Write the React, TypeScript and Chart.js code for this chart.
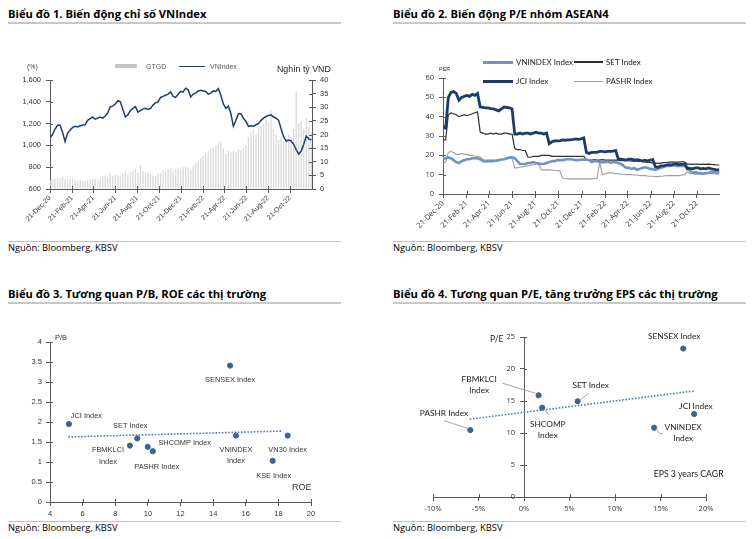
import React, { useEffect, useRef } from "react";
import { Chart, registerables } from "chart.js";

Chart.register(...registerables);

// ---------- shared time axis (days since 21-Dec-2020) ----------
const monthTickDays = [0, 62, 121, 182, 243, 304, 365, 427, 486, 547, 608, 669];
const monthTickLabels = [
  "21-Dec-20", "21-Feb-21", "21-Apr-21", "21-Jun-21", "21-Aug-21", "21-Oct-21",
  "21-Dec-21", "21-Feb-22", "21-Apr-22", "21-Jun-22", "21-Aug-22", "21-Oct-22",
];

// ---------- Chart 1: VNIndex (weekly) & GTGD ----------
const vnIndex = [
  1070, 1100, 1150, 1185, 1185, 1120, 1035, 1110, 1140, 1165,
  1175, 1170, 1180, 1185, 1190, 1230, 1245, 1260, 1240, 1250,
  1260, 1250, 1270, 1300, 1355, 1360, 1380, 1410, 1400, 1330,
  1260, 1280, 1320, 1340, 1355, 1305, 1320, 1335, 1340, 1330,
  1340, 1370, 1390, 1400, 1440, 1450, 1460, 1470, 1490, 1450,
  1440, 1470, 1495, 1490, 1525, 1510, 1445, 1470, 1480, 1500,
  1505, 1500, 1495, 1470, 1480, 1500, 1495, 1520, 1460, 1380,
  1340, 1360, 1290, 1175, 1230, 1290, 1290, 1250, 1220, 1175,
  1180, 1175, 1190, 1200, 1230, 1250, 1265, 1275, 1280, 1260,
  1250, 1230, 1150, 1080, 1040, 1050, 1040, 1010, 960, 920,
  950, 1010, 1085, 1060, 1050,
];
const gtgd = [
  3.2, 3.5, 3.8, 4.2, 3.9, 4.5, 3.6, 3.3, 3.8,
  3.5, 3.2, 3.0, 3.4, 2.8, 3.0, 3.2, 3.5, 3.8,
  3.5, 3.3, 4.2, 4.8, 5.0, 4.5, 5.5, 4.8, 5.2,
  5.0, 4.6, 5.8, 6.5, 5.2, 6.0, 6.8, 7.2, 6.0,
  8.8, 6.5, 5.8, 6.0, 5.5, 5.0, 4.8, 5.5, 6.0,
  6.8, 6.5, 7.2, 7.5, 6.5, 7.0, 7.8, 7.5, 8.0,
  8.2, 7.8, 7.0, 8.5, 9.5, 10.5, 11.5, 12.0, 13.0,
  14.0, 15.0, 15.5, 16.0, 17.0, 17.5, 15.0, 13.0, 14.0,
  13.5, 14.0, 13.5, 14.5, 14.0, 15.0, 16.0, 19.0, 21.0,
  22.0, 20.0, 22.5, 23.0, 24.0, 26.0, 24.5, 29.0, 22.0,
  20.0, 18.0, 19.0, 17.5, 18.5, 20.0, 19.0, 22.0, 36.0,
  24.0, 25.0, 22.0, 26.0, 23.0, 21.0,
];

// ---------- Chart 2: P/E ASEAN4 (weekly) ----------
const peVnindex = [
  18, 18.5, 19, 18.5, 17.5, 16.5, 16, 17, 17.5, 18,
  18, 18.5, 18.5, 18.5, 18, 17, 16.8, 17, 17, 17,
  17.2, 17.5, 17.8, 18, 18.5, 18.8, 19, 18.5, 17, 15.5,
  15.5, 15.5, 16, 16, 16.5, 16, 15.8, 15.5, 15.5, 16,
  16.5, 17, 17, 17.5, 17.5, 17.5, 17.8, 18, 18, 17.8,
  17.5, 17.5, 17.8, 17.8,
  17.8, 17.5, 16.5, 17, 17, 16.5, 16.5, 16.5, 16.8, 16.2,
  16.5, 16.5, 16, 15.5, 14.5, 13.5, 13.5, 13, 13.5, 12.5,
  13, 13.5, 13.8, 13.5, 13, 12.8, 12.5, 13, 13.5, 14,
  14.5, 14.5, 14.8, 15, 14.5, 14.5, 14.5, 14.5, 14, 12,
  11, 11.3, 11, 10.8, 10.5, 10.8, 11, 11.3, 11.2, 11.2, 11,
];
const peSet = [
  28, 28, 41, 42, 41.5, 41, 40, 40.5, 41, 40.5,
  41, 41.5, 42, 42.5, 32, 31.5, 31, 31, 31.5, 31,
  31.5, 31, 31, 31.5, 31.5, 31, 31, 23.5, 23, 23,
  22.5, 22.5, 19, 19, 19.5, 19.5, 19.5, 20, 20, 20,
  20, 19.5, 19.5, 19.5, 19.5, 19.5, 19.5, 19.5, 19.5, 19.5,
  19.5, 19.5, 19.5, 19.5, 17.7, 17.5, 17.5, 17.8, 17.5, 17.5,
  17.8, 17.5, 17.5, 17.5, 17.5, 17.5, 17.5, 17.3, 17.3, 17.2,
  17.2, 17, 17, 17, 16.8, 16.8, 16.5, 16.5, 16.3, 16,
  16, 15.8, 16, 16.2, 16.3, 16.5, 16.5, 16.5, 16.5, 16.5,
  16.8, 16.5, 15.5, 15.5, 15.3, 15.5, 15.5, 15.3, 15.5, 15.3,
  15.5, 15.3, 15.2, 15, 15,
];
const peJci = [
  35, 34, 50, 52.5, 53, 52, 48.5, 50, 50.5, 51,
  50.5, 51.5, 51, 52, 45, 44.8, 44.5, 44.5, 44.2, 44,
  43.5, 43, 44, 45, 44.8, 44.5, 44, 31, 31, 31.5,
  31, 31.5, 31.5, 31, 31.5, 32, 31.5, 31.5, 31, 31.5,
  26, 27, 27.5, 27.5, 27.5, 28, 27.8, 28, 28, 28.2,
  28.5, 28.3, 28.5, 29, 21.5, 21, 21.5, 21.5, 21.5, 22,
  22, 21.8, 22, 22, 22.2, 22.5, 18, 18, 17.8, 17.5,
  18, 18, 17.5, 17.8, 17.5, 17, 17.5, 17, 17.5, 17.8,
  14, 13.8, 14.5, 14.5, 15, 15.2, 15, 15.5, 15.5, 15.2,
  15.5, 15.5, 13, 13.2, 13, 13.5, 13.5, 13, 13.2, 13,
  13.5, 13, 12.8, 12.5, 12.5,
];
const pePashr = [
  16, 16.5, 21.5, 22, 21.5, 20.5, 20.5, 21, 20.5, 20.5,
  20, 20, 19.5, 19.5, 19, 18, 17.5, 17.5, 17.5, 17.5,
  17.5, 18, 18, 18, 18, 18.5, 18.5,
  13.5, 13.5, 14, 14, 14.5, 14.5, 15, 15, 15.5, 15.5,
  12.5, 12.5, 12.5, 12.5, 12.3, 12.3, 12, 12,
  8.3, 8, 7.8, 7.8, 7.8, 7.8, 7.8, 7.8, 7.8, 7.8, 7.8, 7.8, 8, 8,
  16.5, 10,
  10.5, 10.8, 11, 10.8, 10.5, 10.5, 10.3, 10.2, 10, 10,
  10, 9.8, 9.8, 9.5, 9.5, 9.5, 9.3, 9.2, 9.2, 9,
  9, 9.2, 9.3, 9.5, 9.5, 9.5, 9.5, 9.5, 9.5, 9.8,
  10, 11.5, 10.5, 10.5, 10.3, 10.3, 10.3, 10.5, 10.5, 10.5,
  10.5, 10.5, 10.3, 10.3,
];

// ---------- Chart 3: P/B vs ROE ----------
const c3Names = ["SENSEX Index", "JCI Index", "SET Index", "FBMKLCI Index", "SHCOMP Index", "PASHR Index", "VNINDEX Index", "VN30 Index", "KSE Index"];
const c3Roe = [15.04, 5.16, 9.35, 8.9, 9.99, 10.3, 15.4, 18.57, 17.65];
const c3Pb = [3.41, 1.95, 1.59, 1.41, 1.38, 1.27, 1.66, 1.66, 1.03];
const c3TrendRange = [5.12, 18.2];

// ---------- Chart 4: P/E vs EPS growth ----------
const c4Names = ["SENSEX Index", "FBMKLCI Index", "SET Index", "SHCOMP Index", "PASHR Index", "JCI Index", "VNINDEX Index"];
const c4Eps = [17.5, 1.6, 5.9, 2.0, -5.9, 18.7, 14.3];
const c4Pe = [23.2, 15.9, 14.96, 13.96, 10.46, 12.97, 10.82];
const c4TrendRange = [-5.96, 18.7];

// ---------- helpers ----------
const AXIS = "#595959";
const TICKC = "#333333";
const weekDay = (i: number) => i * 7;

function regression(xs: number[], ys: number[]) {
  const n = xs.length;
  const mx = xs.reduce((a, b) => a + b, 0) / n;
  const my = ys.reduce((a, b) => a + b, 0) / n;
  let sxy = 0, sxx = 0;
  for (let i = 0; i < n; i++) { sxy += (xs[i] - mx) * (ys[i] - my); sxx += (xs[i] - mx) ** 2; }
  const b = sxy / sxx;
  return (x: number) => my + b * (x - mx);
}

const innerTicks = {
  id: "innerTicks",
  afterDraw(chart: any, _a: any, opts: any) {
    if (!opts || !opts.scales) return;
    const ctx = chart.ctx;
    ctx.save();
    ctx.strokeStyle = AXIS;
    ctx.lineWidth = 1;
    const len = opts.length || 3;
    for (const id of opts.scales) {
      const s = chart.scales[id];
      if (!s) continue;
      for (const t of s.ticks) {
        const p = Math.round(s.getPixelForValue(t.value)) + 0.5;
        ctx.beginPath();
        if (s.isHorizontal()) {
          const y = Math.round(chart.chartArea.bottom);
          ctx.moveTo(p, y); ctx.lineTo(p, y - len);
        } else {
          let x: number, dir: number;
          if (typeof s.options.position === "object") {
            x = Math.round(chart.scales.x.getPixelForValue(0)); dir = 1;
          } else if (s.options.position === "right") {
            x = Math.round(s.left); dir = -1;
          } else {
            x = Math.round(s.right); dir = 1;
          }
          ctx.moveTo(x, p); ctx.lineTo(x + dir * len, p);
        }
        ctx.stroke();
      }
    }
    // optional: labels for a y-axis that sits inside the chart area
    if (opts.centerYLabels) {
      const s = chart.scales.y;
      const x = chart.scales.x.getPixelForValue(0) - opts.centerYLabels.gap;
      ctx.font = opts.centerYLabels.font;
      ctx.fillStyle = TICKC;
      ctx.textAlign = "right";
      ctx.textBaseline = "middle";
      for (const t of s.ticks) ctx.fillText(String(t.label), x, s.getPixelForValue(t.value));
    }
    ctx.restore();
  },
};

const pointLabels = {
  id: "pointLabels",
  afterDatasetsDraw(chart: any, _a: any, opts: any) {
    if (!opts || !opts.names) return;
    const meta = chart.getDatasetMeta(0);
    const ctx = chart.ctx;
    ctx.save();
    ctx.font = opts.font;
    ctx.fillStyle = opts.color;
    ctx.textAlign = "center";
    ctx.textBaseline = "middle";
    meta.data.forEach((el: any, i: number) => {
      const name: string = opts.names[i];
      const st = opts.styles[name];
      if (!st) return;
      const lines = st.wrap ? name.split(" ") : [name];
      lines.forEach((ln: string, k: number) => ctx.fillText(ln, el.x + st.dx, el.y + st.dy + k * opts.lineHeight));
      if (st.leader) {
        ctx.strokeStyle = "#a6a6a6";
        ctx.lineWidth = 1;
        ctx.beginPath();
        st.leader.forEach((pt: number[], k: number) => {
          if (k === 0) ctx.moveTo(el.x + pt[0], el.y + pt[1]);
          else ctx.lineTo(el.x + pt[0], el.y + pt[1]);
        });
        ctx.stroke();
      }
    });
    ctx.restore();
  },
};

Chart.register(innerTicks, pointLabels);

function ChartBox({ left, top, width, height, make }: any) {
  const ref = useRef<HTMLCanvasElement>(null);
  useEffect(() => {
    const chart = new Chart(ref.current as HTMLCanvasElement, make());
    return () => chart.destroy();
  }, []);
  return (
    <div style={{ position: "absolute", left, top, width, height }}>
      <canvas ref={ref} width={width} height={height} style={{ width, height, display: "block" }} />
    </div>
  );
}

function Txt({ x, y, children, font, size, weight, color, align }: any) {
  const tx = align === "center" ? "-50%" : align === "right" ? "-100%" : "0";
  return (
    <div
      style={{
        position: "absolute", left: x, top: y, transform: `translate(${tx}, -50%)`,
        whiteSpace: "nowrap", lineHeight: 1, fontFamily: font || "'Open Sans'", fontSize: size,
        fontWeight: weight || 400, color: color || "#000",
      }}
    >
      {children}
    </div>
  );
}

const Rule = ({ x, y, w, c, h }: any) => (
  <div style={{ position: "absolute", left: x, top: y, width: w, height: h || 2, background: c || "#c8c8c8" }} />
);

const tickFont = (size: number, family = "'Liberation Sans'") => ({ family, size });

function timeXAxis(height: number, size: number, family?: string) {
  return {
    type: "linear",
    min: 0,
    max: 730,
    offset: false,
    grid: { display: true, drawOnChartArea: false, tickLength: 4, color: AXIS, offset: false },
    border: { color: AXIS, width: 1 },
    ticks: {
      autoSkip: false, minRotation: 45, maxRotation: 45, padding: 1,
      font: tickFont(size, family), color: TICKC,
      callback: (_v: any, i: number) => monthTickLabels[i],
    },
    afterBuildTicks: (s: any) => { s.ticks = monthTickDays.map((v) => ({ value: v })); },
    afterFit: (s: any) => { s.height = height; },
  };
}

function makeChart1() {
  return {
    type: "bar",
    data: {
      datasets: [
        {
          type: "line", label: "VNIndex", yAxisID: "y", order: 0,
          data: vnIndex.map((v, i) => ({ x: weekDay(i), y: v })),
          borderColor: "#1f3e6a", borderWidth: 1.5, pointRadius: 0, tension: 0,
        },
        {
          type: "bar", label: "GTGD", yAxisID: "y1", order: 1,
          data: gtgd.map((v, i) => ({ x: weekDay(i), y: v })),
          backgroundColor: "#dcdcdc", barPercentage: 0.55, categoryPercentage: 1,
        },
      ],
    },
    options: {
      responsive: false, animation: false, devicePixelRatio: 1,
      layout: { padding: { top: 10, left: 0, right: 0, bottom: 0 } },
      plugins: { legend: { display: false }, tooltip: { enabled: false }, innerTicks: { scales: ["y", "y1", "x"], length: 3 } },
      scales: {
        x: timeXAxis(51, 7),
        y: {
          position: "left", min: 600, max: 1600,
          grid: { drawOnChartArea: false, tickLength: 4, color: AXIS },
          border: { color: AXIS },
          ticks: { stepSize: 200, font: tickFont(7.5), color: TICKC, padding: 5, callback: (v: number) => v.toLocaleString("en-US") },
          afterFit: (s: any) => { s.width = 50; },
        },
        y1: {
          position: "right", min: 0, max: 40,
          grid: { drawOnChartArea: false, tickLength: 4, color: AXIS },
          border: { color: AXIS },
          ticks: { stepSize: 5, font: tickFont(7.5), color: TICKC, padding: 4 },
          afterFit: (s: any) => { s.width = 28; },
        },
      },
    },
  };
}

function makeChart2() {
  const mk = (label: string, arr: number[], color: string, width: number, order: number) => ({
    label, order, data: arr.map((v, i) => ({ x: weekDay(i), y: v })),
    borderColor: color, borderWidth: width, pointRadius: 0, tension: 0,
  });
  return {
    type: "line",
    data: {
      datasets: [
        mk("VNINDEX Index", peVnindex, "#7093c6", 2.6, 1),
        mk("SET Index", peSet, "#2e2e2e", 1.2, 2),
        mk("JCI Index", peJci, "#1d3c6a", 2.8, 0),
        mk("PASHR Index", pePashr, "#9e9e9e", 1.1, 3),
      ],
    },
    options: {
      responsive: false, animation: false, devicePixelRatio: 1,
      layout: { padding: { top: 18, left: 0, right: 0, bottom: 0 } },
      plugins: { legend: { display: false }, tooltip: { enabled: false }, innerTicks: { scales: ["y", "x"], length: 3 } },
      scales: {
        x: timeXAxis(46, 7.5, "'Open Sans'"),
        y: {
          position: "left", min: 0, max: 60,
          grid: { drawOnChartArea: false, tickLength: 4, color: AXIS },
          border: { color: AXIS },
          ticks: { stepSize: 10, font: tickFont(7.5, "'Open Sans'"), color: TICKC, padding: 5 },
          afterFit: (s: any) => { s.width = 43; },
        },
      },
    },
  };
}

const scatterPoint = "#3d6491";
const trendColor = "#4a78b8";

function makeChart3() {
  const f = regression(c3Roe, c3Pb);
  return {
    type: "scatter",
    data: {
      datasets: [
        {
          label: "P/B", data: c3Roe.map((x, i) => ({ x, y: c3Pb[i] })),
          backgroundColor: scatterPoint, borderColor: scatterPoint, pointRadius: 2.6, order: 0,
        },
        {
          type: "line", label: "trend", data: c3TrendRange.map((x) => ({ x, y: f(x) })),
          borderColor: trendColor, borderWidth: 1.6, borderDash: [1.6, 1.6], pointRadius: 0, order: 1,
        },
      ],
    },
    options: {
      responsive: false, animation: false, devicePixelRatio: 1,
      layout: { padding: { top: 22, left: 0, right: 19, bottom: 0 } },
      plugins: {
        legend: { display: false }, tooltip: { enabled: false },
        innerTicks: { scales: ["y", "x"], length: 3 },
        pointLabels: {
          names: c3Names, font: "7.4px 'Liberation Sans'", color: "#333", lineHeight: 11.5,
          styles: {
            "SENSEX Index": { dx: 0, dy: 14.3 },
            "JCI Index": { dx: 17.5, dy: -8.3 },
            "SET Index": { dx: -7, dy: -12.3 },
            "FBMKLCI Index": { dx: -22, dy: 4.7, wrap: true },
            "SHCOMP Index": { dx: 37, dy: -3.7 },
            "PASHR Index": { dx: 4, dy: 16 },
            "VNINDEX Index": { dx: 0, dy: 14.3, wrap: true },
            "VN30 Index": { dx: 0, dy: 14.3 },
            "KSE Index": { dx: 1, dy: 15.3 },
          },
        },
      },
      scales: {
        x: {
          type: "linear", min: 4, max: 20,
          grid: { drawOnChartArea: false, tickLength: 4, color: AXIS },
          border: { color: AXIS },
          ticks: { stepSize: 2, font: tickFont(7.5), color: TICKC, padding: 3 },
          afterFit: (s: any) => { s.height = 18; },
        },
        y: {
          position: "left", min: 0, max: 4,
          grid: { drawOnChartArea: false, tickLength: 4, color: AXIS },
          border: { color: AXIS },
          ticks: { stepSize: 0.5, font: tickFont(7.5), color: TICKC, padding: 4, callback: (v: number) => String(v) },
          afterFit: (s: any) => { s.width = 50; },
        },
      },
    },
  };
}

function makeChart4() {
  const f = regression(c4Eps, c4Pe);
  return {
    type: "scatter",
    data: {
      datasets: [
        {
          label: "P/E", data: c4Eps.map((x, i) => ({ x, y: c4Pe[i] })),
          backgroundColor: scatterPoint, borderColor: scatterPoint, pointRadius: 2.6, order: 0,
        },
        {
          type: "line", label: "trend", data: c4TrendRange.map((x) => ({ x, y: f(x) })),
          borderColor: trendColor, borderWidth: 1.6, borderDash: [1.6, 1.6], pointRadius: 0, order: 1,
        },
      ],
    },
    options: {
      responsive: false, animation: false, devicePixelRatio: 1,
      layout: { padding: { top: 17, left: 33, right: 24, bottom: 0 } },
      plugins: {
        legend: { display: false }, tooltip: { enabled: false },
        innerTicks: { scales: ["y", "x"], length: 3, centerYLabels: { gap: 9, font: "7.5px 'Open Sans'" } },
        pointLabels: {
          names: c4Names, font: "8.3px Lato", color: "#222", lineHeight: 11,
          styles: {
            "SENSEX Index": { dx: -9, dy: -12 },
            "FBMKLCI Index": { dx: -59.4, dy: -16, wrap: true, leader: [[-36, -12], [-3, -2]] },
            "SET Index": { dx: 13, dy: -16, leader: [[2, -1], [11, -8]] },
            "SHCOMP Index": { dx: 5.6, dy: 16.3, wrap: true, leader: [[1.6, 1.5], [6.6, 7.3]] },
            "PASHR Index": { dx: -26.3, dy: -16.7, leader: [[-26, -9.3], [-2, -1.5]] },
            "JCI Index": { dx: 1.7, dy: -8 },
            "VNINDEX Index": { dx: 29, dy: 0, wrap: true, leader: [[2, 0.6], [5, 5.6], [8.7, 5.6]] },
          },
        },
      },
      scales: {
        x: {
          type: "linear", min: -10, max: 20,
          grid: { drawOnChartArea: false, tickLength: 4, color: AXIS },
          border: { color: AXIS },
          ticks: { stepSize: 5, font: tickFont(7.5, "'Open Sans'"), color: TICKC, padding: 3, callback: (v: number) => `${v}%` },
          afterFit: (s: any) => { s.height = 23; },
        },
        y: {
          position: { x: 0 }, min: 0, max: 25,
          grid: { drawOnChartArea: false, tickLength: 4, color: AXIS },
          border: { color: AXIS },
          ticks: { stepSize: 5, display: false },
        },
      },
    },
  };
}

export default function App() {
  return (
    <div style={{ position: "absolute", left: 0, top: 0, width: 753, height: 539, background: "#fff", overflow: "hidden" }}>
      {/* titles */}
      <Txt x={8} y={13.7} size={11.2} weight={700}>Biểu đồ 1. Biến động chỉ số VNIndex</Txt>
      <Rule x={8} y={22} w={333} />
      <Txt x={393} y={13.7} size={11.2} weight={700}>Biểu đồ 2. Biến động P/E nhóm ASEAN4</Txt>
      <Rule x={393} y={22} w={353} />
      <Txt x={8} y={293.7} size={11.2} weight={700}>Biểu đồ 3. Tương quan P/B, ROE các thị trường</Txt>
      <Rule x={8} y={302} w={333} />
      <Txt x={393} y={293.7} size={11.2} weight={700}>Biểu đồ 4. Tương quan P/E, tăng trưởng EPS các thị trường</Txt>
      <Rule x={393} y={302} w={353} />

      {/* charts */}
      <ChartBox left={0} top={70} width={340} height={170} make={makeChart1} />
      <ChartBox left={400} top={60} width={320} height={180} make={makeChart2} />
      <ChartBox left={0} top={320} width={330} height={200} make={makeChart3} />
      <ChartBox left={400} top={320} width={330} height={200} make={makeChart4} />

      {/* chart 1 legend & axis titles */}
      <Txt x={27} y={66} size={7} font="'Liberation Sans'" color="#444">(%)</Txt>
      <div style={{ position: "absolute", left: 115, top: 64, width: 22, height: 4, background: "#c4c4c4" }} />
      <Txt x={146} y={66} size={7} font="'Liberation Sans'" color="#555">GTGD</Txt>
      <div style={{ position: "absolute", left: 179, top: 65.5, width: 26, height: 1.5, background: "#1f3e6a" }} />
      <Txt x={210} y={66} size={7} font="'Liberation Sans'" color="#555">VNIndex</Txt>
      <Txt x={277} y={69} size={8.8} font="'Liberation Sans'" color="#222">Nghìn tỷ VND</Txt>

      {/* chart 2 legend & axis title */}
      <div style={{ position: "absolute", left: 483, top: 60.5, width: 30, height: 3, background: "#7093c6" }} />
      <Txt x={516} y={62} size={8} font="Lato" color="#222">VNINDEX Index</Txt>
      <div style={{ position: "absolute", left: 574, top: 61.3, width: 29, height: 1.5, background: "#2e2e2e" }} />
      <Txt x={606} y={62} size={8} font="Lato" color="#222">SET Index</Txt>
      <div style={{ position: "absolute", left: 483, top: 79.5, width: 30, height: 3, background: "#1d3c6a" }} />
      <Txt x={516} y={81} size={8} font="Lato" color="#222">JCI Index</Txt>
      <div style={{ position: "absolute", left: 574, top: 80.5, width: 29, height: 1, background: "#9e9e9e" }} />
      <Txt x={606} y={81} size={8} font="Lato" color="#222">PASHR Index</Txt>
      <Txt x={439} y={70} size={5.5} font="'Liberation Sans'" color="#333">PER</Txt>

      {/* chart 3 axis titles */}
      <Txt x={55} y={338} size={7.5} font="'Liberation Sans'" color="#333">P/B</Txt>
      <Txt x={292} y={487} size={9} font="'Liberation Sans'" color="#333">ROE</Txt>

      {/* chart 4 axis titles */}
      <Txt x={490} y={339} size={8.5} font="Lato" color="#222">P/E</Txt>
      <Txt x={653.7} y={473.5} size={8.7} font="Lato" color="#222">EPS  3  years  CAGR</Txt>

      {/* sources */}
      <Rule x={8} y={240.5} w={333} h={1.2} c="#c0c0c0" />
      <Txt x={8} y={248.3} size={9.35}>Nguồn: Bloomberg, KBSV</Txt>
      <Rule x={393} y={240.5} w={353} h={1.2} c="#c0c0c0" />
      <Txt x={393} y={248.3} size={9.35}>Nguồn: Bloomberg, KBSV</Txt>
      <Rule x={8} y={520.5} w={333} h={1.2} c="#c0c0c0" />
      <Txt x={8} y={528.3} size={9.35}>Nguồn: Bloomberg, KBSV</Txt>
      <Rule x={393} y={520.5} w={353} h={1.2} c="#c0c0c0" />
      <Txt x={393} y={528.3} size={9.35}>Nguồn: Bloomberg, KBSV</Txt>
    </div>
  );
}
